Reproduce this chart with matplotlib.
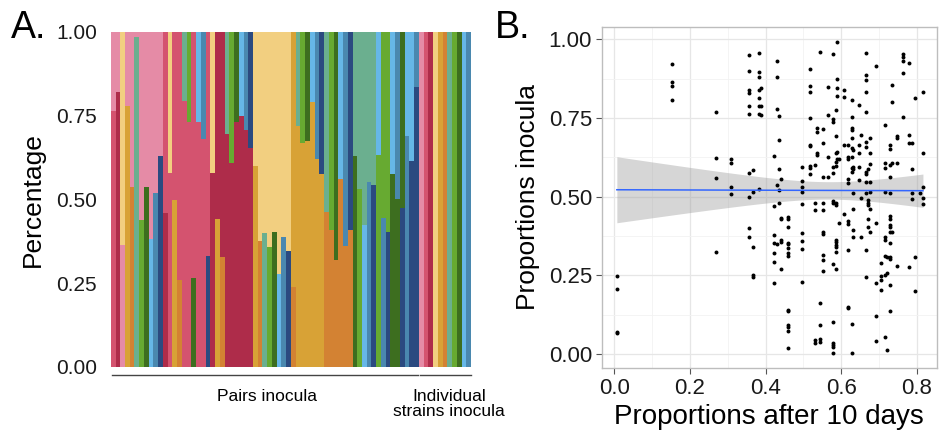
import numpy as np
import matplotlib
matplotlib.use("Agg")
import matplotlib.pyplot as plt
import matplotlib.transforms as mtransforms

plt.rcParams['font.family'] = ['Liberation Sans', 'DejaVu Sans']

# strain colours
strain_cols = {
    'pink': '#E58BA6', 'crimson': '#D4536F', 'darkred': '#AE2C4A',
    'yellow': '#F2CF80', 'gold': '#D8A236', 'orange': '#D38233',
    'teal': '#6BAF8F', 'green': '#67AA31', 'dkgreen': '#3D6E1F',
    'ltblue': '#66B7E7', 'steel': '#4A88AF', 'navy': '#2B4A80',
}

# panel A: pair inocula (bottom strain, its share, top strain)
pair_bottom = ['crimson', 'darkred', 'pink', 'gold', 'orange', 'teal', 'green', 'dkgreen', 'ltblue', 'steel', 'navy',
               'darkred', 'crimson', 'gold', 'orange', 'crimson', 'crimson', 'dkgreen', 'crimson', 'crimson', 'navy',
               'darkred', 'gold', 'orange', 'darkred', 'darkred', 'darkred', 'darkred', 'darkred', 'darkred',
               'gold', 'orange', 'teal', 'green', 'dkgreen', 'ltblue', 'steel', 'navy',
               'orange', 'gold', 'gold', 'gold', 'gold', 'gold', 'gold',
               'orange', 'orange', 'orange', 'orange', 'orange', 'orange',
               'dkgreen', 'green', 'ltblue', 'steel', 'navy',
               'green', 'steel', 'navy', 'dkgreen', 'dkgreen', 'navy', 'steel', 'navy', 'navy']
pair_share = [0.765, 0.82, 0.364, 0.78, 0.537, 0.985, 0.44, 0.537, 0.383, 0.518, 0.63,
              0.46, 0.58, 0.498, 0.26, 0.795, 0.73, 0.266, 0.73, 0.68, 0.33,
              0.578, 0.443, 0.328, 0.694, 0.61, 0.73, 0.75, 0.707, 0.655,
              0.60, 0.376, 0.40, 0.358, 0.404, 0.278, 0.388, 0.346,
              0.24, 0.72, 0.67, 0.674, 0.79, 0.62, 0.575,
              0.463, 0.41, 0.32, 0.56, 0.36, 0.41,
              0.63, 0.53, 0.425, 0.553, 0.543,
              0.634, 0.445, 0.404, 0.575, 0.50, 0.475, 0.69, 0.614, 0.835]
pair_top = ['pink', 'pink', 'yellow', 'pink', 'pink', 'pink', 'pink', 'pink', 'pink', 'pink', 'pink',
            'crimson', 'yellow', 'crimson', 'crimson', 'teal', 'green', 'crimson', 'ltblue', 'steel', 'crimson',
            'yellow', 'darkred', 'darkred', 'teal', 'green', 'dkgreen', 'ltblue', 'steel', 'navy',
            'yellow', 'yellow', 'yellow', 'yellow', 'yellow', 'yellow', 'yellow', 'yellow',
            'gold', 'teal', 'green', 'dkgreen', 'ltblue', 'steel', 'navy',
            'teal', 'green', 'dkgreen', 'ltblue', 'steel', 'navy',
            'teal', 'teal', 'teal', 'teal', 'teal',
            'ltblue', 'green', 'green', 'ltblue', 'steel', 'dkgreen', 'ltblue', 'ltblue', 'steel']
single_strains = ['pink', 'crimson', 'darkred', 'yellow', 'gold', 'orange',
                  'teal', 'green', 'dkgreen', 'ltblue', 'steel']

# panel B: proportions after 10 days (x) vs inocula (y), column by column
col_x = [0.007, 0.153, 0.268, 0.310, 0.356, 0.366, 0.382, 0.388, 0.422, 0.430, 0.436, 0.442, 0.460,
         0.497, 0.517, 0.531, 0.535, 0.544, 0.553, 0.564, 0.579, 0.585, 0.590, 0.594, 0.608, 0.619,
         0.628, 0.632, 0.648, 0.653, 0.665, 0.670, 0.677, 0.692, 0.704, 0.716, 0.721, 0.728, 0.734,
         0.747, 0.763, 0.778, 0.788, 0.796, 0.809, 0.816]
col_y = [
    [0.248, 0.206, 0.071, 0.066],
    [0.922, 0.865, 0.852, 0.807],
    [0.77, 0.624, 0.558, 0.323],
    [0.619, 0.606, 0.530, 0.508],
    [0.949, 0.901, 0.839, 0.830, 0.789, 0.762, 0.576, 0.500, 0.399, 0.372],
    [0.585, 0.515, 0.339, 0.251, 0.244],
    [0.958, 0.897, 0.879, 0.839, 0.815, 0.788, 0.762, 0.523],
    [0.844, 0.788, 0.758],
    [0.629, 0.470, 0.378, 0.354, 0.322, 0.293, 0.225],
    [0.932, 0.879, 0.778, 0.537, 0.350],
    [0.755, 0.679, 0.587, 0.521, 0.479],
    [0.555, 0.431, 0.428, 0.362, 0.357, 0.269],
    [0.436, 0.428, 0.404, 0.354, 0.350, 0.336, 0.320, 0.311, 0.140, 0.137, 0.092, 0.087, 0.074, 0.018],
    [0.595, 0.551, 0.530, 0.514, 0.476, 0.383, 0.360, 0.333, 0.230],
    [0.905, 0.853, 0.834, 0.751, 0.661, 0.597, 0.592, 0.572, 0.664],
    [0.481, 0.458, 0.601, 0.044, 0.036],
    [0.717, 0.707, 0.638, 0.632],
    [0.961, 0.161, 0.092, 0.047, 0.039],
    [0.714, 0.672, 0.564, 0.481, 0.458, 0.388, 0.380, 0.313, 0.299, 0.265],
    [0.850, 0.760, 0.627, 0.564],
    [0.952, 0.747, 0.738, 0.595, 0.574, 0.487, 0.479, 0.285, 0.103, 0.036, 0.029, 0.023, 0.002],
    [0.775, 0.693, 0.638, 0.611, 0.597, 0.481, 0.474, 0.362, 0.355, 0.346, 0.341, 0.325, 0.269],
    [0.993, 0.873, 0.846, 0.820, 0.643, 0.619],
    [0.619, 0.417],
    [0.839, 0.818, 0.664, 0.445],
    [0.664, 0.619, 0.625, 0.556, 0.542, 0.421, 0.413, 0.331, 0.150, 0.145],
    [0.807, 0.752, 0.719, 0.712, 0.685, 0.654, 0.625, 0.590, 0.579, 0.095, 0.002],
    [0.648, 0.593, 0.587, 0.513, 0.460, 0.394, 0.373],
    [0.791, 0.664, 0.638, 0.595, 0.553],
    [0.696, 0.497, 0.373],
    [0.956, 0.887, 0.871, 0.834, 0.770, 0.675, 0.659, 0.579, 0.572, 0.548, 0.511, 0.331, 0.244],
    [0.587, 0.489, 0.481, 0.474, 0.428, 0.405],
    [0.685, 0.638, 0.604, 0.548, 0.516, 0.460, 0.388],
    [0.916, 0.415, 0.225, 0.121, 0.041],
    [0.290, 0.248, 0.235, 0.203],
    [0.728, 0.606, 0.590, 0.516, 0.373, 0.362, 0.311, 0.251, 0.055],
    [0.309, 0.256, 0.011],
    [0.664, 0.650, 0.601, 0.561, 0.511, 0.439, 0.428, 0.410, 0.405, 0.389, 0.352, 0.307, 0.301, 0.219, 0.135],
    [0.855, 0.802, 0.608, 0.386],
    [0.693, 0.685, 0.606, 0.278],
    [0.953, 0.945, 0.932, 0.892, 0.752],
    [0.924, 0.696, 0.672, 0.275],
    [0.669, 0.587, 0.511, 0.494],
    [0.815, 0.309, 0.201],
    [0.513],
    [0.834, 0.640, 0.532, 0.495, 0.476],
]

fig = plt.figure(figsize=(9.39, 4.32), dpi=100)

# ---------------- panel A ----------------
axA = fig.add_axes([0.118, 0.1505, 0.3836, 0.7755])
n_pairs = len(pair_share)
xp = np.arange(n_pairs)
share = np.array(pair_share)
axA.bar(xp, share, width=1.0, color=[strain_cols[s] for s in pair_bottom], linewidth=0)
axA.bar(xp, 1 - share, bottom=share, width=1.0, color=[strain_cols[s] for s in pair_top], linewidth=0)
xs = np.arange(n_pairs, n_pairs + len(single_strains))
axA.bar(xs, np.ones(len(xs)), width=1.0, color=[strain_cols[s] for s in single_strains], linewidth=0)

axA.set_xlim(-0.5, n_pairs + len(single_strains) - 0.5)
axA.set_ylim(0, 1)
axA.set_yticks([0, 0.25, 0.5, 0.75, 1.0])
axA.set_yticklabels(['0.00', '0.25', '0.50', '0.75', '1.00'])
axA.tick_params(axis='y', length=0, labelsize=15, pad=10, labelcolor='#1a1a1a')
axA.set_xticks([])
for sp in axA.spines.values():
    sp.set_visible(False)
axA.set_ylabel('Percentage', fontsize=19, labelpad=8)

trans = mtransforms.blended_transform_factory(axA.transData, axA.transAxes)
axA.plot([-0.3, n_pairs - 0.7], [-0.024, -0.024], color='#444444', lw=1, transform=trans, clip_on=False)
axA.plot([n_pairs - 0.3, n_pairs + len(single_strains) - 0.6], [-0.024, -0.024], color='#444444', lw=1,
         transform=trans, clip_on=False)
axA.text(32.5, -0.087, 'Pairs inocula', transform=trans, ha='center', va='center', fontsize=12.5)
axA.text(70.9, -0.11, 'Individual\nstrains inocula', transform=trans, ha='center', va='center',
         fontsize=12.5, linespacing=1.05)

fig.text(0.012, 0.935, 'A.', fontsize=27, va='center', ha='left')

# ---------------- panel B ----------------
axB = fig.add_axes([0.6408, 0.148, 0.357, 0.79])
xv = np.concatenate([[x] * len(ys) for x, ys in zip(col_x, col_y)])
yv = np.concatenate(col_y)

# linear fit with 95% confidence band
n = len(xv)
b1, b0 = np.polyfit(xv, yv, 1)
resid = yv - (b0 + b1 * xv)
s = np.sqrt(np.sum(resid ** 2) / (n - 2))
xm = xv.mean()
sxx = np.sum((xv - xm) ** 2)
xf = np.linspace(xv.min(), xv.max(), 80)
yf = b0 + b1 * xf
half = 1.968 * s * np.sqrt(1 / n + (xf - xm) ** 2 / sxx)

axB.set_xlim(-0.033, 0.853)
axB.set_ylim(-0.045, 1.04)
axB.set_xticks([0, 0.2, 0.4, 0.6, 0.8])
axB.set_xticks([0.1, 0.3, 0.5, 0.7], minor=True)
axB.set_yticks([0, 0.25, 0.5, 0.75, 1.0])
axB.set_yticks([0.125, 0.375, 0.625, 0.875], minor=True)
axB.set_yticklabels(['0.00', '0.25', '0.50', '0.75', '1.00'])
axB.grid(which='major', color='#E6E6E6', lw=0.9)
axB.grid(which='minor', color='#F2F2F2', lw=0.6)
axB.set_axisbelow(True)
for sp in axB.spines.values():
    sp.set_color('#BDBDBD')
    sp.set_linewidth(1)
axB.tick_params(which='major', length=4, color='#555555', labelsize=16, labelcolor='#1a1a1a', pad=3)
axB.tick_params(which='minor', length=0)

axB.fill_between(xf, yf - half, yf + half, color='#999999', alpha=0.4, linewidth=0, zorder=2)
axB.scatter(xv, yv, s=8, color='black', linewidths=0, zorder=3)
axB.plot(xf, yf, color='#3366FF', lw=1.1, zorder=4)

axB.set_xlabel('Proportions after 10 days', fontsize=20, labelpad=4)
axB.set_ylabel('Proportions inocula', fontsize=19, labelpad=6)

fig.text(0.527, 0.935, 'B.', fontsize=27, va='center', ha='left')

fig.savefig('out.png', dpi=100)
